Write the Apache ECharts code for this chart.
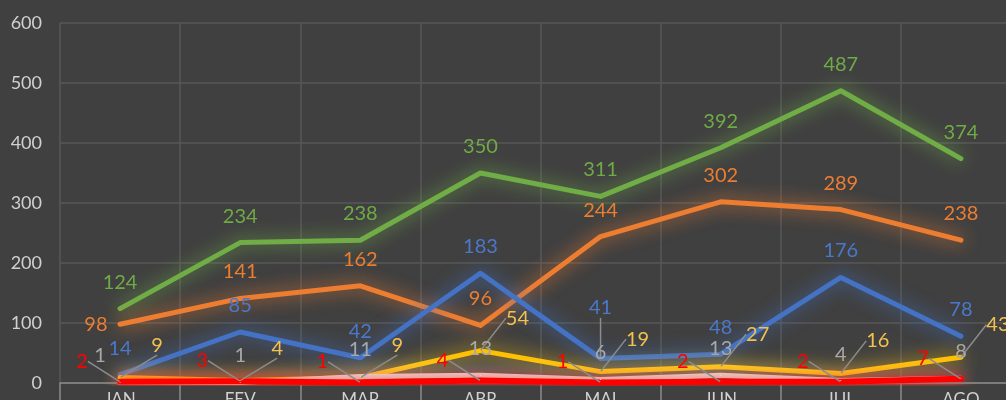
<!DOCTYPE html>
<html lang="pt">
<head>
    <meta charset="UTF-8">
    <title>Registos por mês</title>
    <script src="https://cdn.jsdelivr.net/npm/echarts@6/dist/echarts.min.js"></script>
    <style>
        html, body { margin: 0; padding: 0; background: #404040; }
        #container { width: 1006px; height: 400px; }
    </style>
</head>
<body>
<div id="container"></div>
<script>
    const months = ['JAN', 'FEV', 'MAR', 'ABR', 'MAI', 'JUN', 'JUL', 'AGO'];
    const greenVals = [124, 234, 238, 350, 311, 392, 487, 374];
    const orangeVals = [98, 141, 162, 96, 244, 302, 289, 238];
    const blueVals = [14, 85, 42, 183, 41, 48, 176, 78];
    const yellowVals = [9, 4, 9, 54, 19, 27, 16, 43];
    const grayVals = [1, 1, 11, 13, 6, 13, 4, 8];
    const redVals = [2, 3, 1, 4, 1, 2, 2, 7];
    const yTicks = [0, 100, 200, 300, 400, 500, 600];

    const font = 'Lato, "Open Sans", sans-serif';
    const guide = { show: true, lineStyle: { color: '#8c8c8c', width: 1.5 } };

    // one line series with glow and labels
    function line(name, data, color, labelColor, extra) {
        const s = {
            name: name,
            type: 'line',
            data: data,
            symbol: 'circle',
            symbolSize: 1,
            showSymbol: true,
            itemStyle: { color: color },
            lineStyle: {
                color: color,
                width: 5,
                cap: 'round',
                join: 'round',
                shadowBlur: 18,
                shadowColor: color
            },
            label: {
                show: true,
                position: 'top',
                distance: 16,
                color: labelColor,
                fontSize: 20,
                fontFamily: font
            },
            labelLine: { show: false }
        };
        return Object.assign(s, extra || {});
    }

    var dom = document.getElementById('container');
    var myChart = echarts.init(dom, null, { renderer: 'canvas' });

    var option = {
        backgroundColor: '#404040',
        animation: false,
        grid: { left: 60, right: -15, top: 23, bottom: 17, containLabel: false, outerBoundsMode: 'none' },
        xAxis: {
            type: 'category',
            data: months,
            boundaryGap: true,
            axisLine: { lineStyle: { color: '#8a8a8a', width: 1.5 } },
            axisTick: { show: true, length: 20, lineStyle: { color: '#8a8a8a', width: 1.5 } },
            axisLabel: { color: '#d0d0d0', fontSize: 17, fontFamily: font, margin: 8 },
            splitLine: { show: true, lineStyle: { color: '#575757', width: 1.5 } }
        },
        yAxis: {
            type: 'value',
            min: yTicks[0],
            max: yTicks[yTicks.length - 1],
            interval: 100,
            axisLine: { show: false },
            axisTick: { show: false },
            axisLabel: { color: '#d0d0d0', fontSize: 18, fontFamily: font, margin: 18 },
            splitLine: { lineStyle: { color: '#575757', width: 1.5 } }
        },
        series: [
            line('Verde', greenVals, '#70ad47', '#6fab45'),
            line('Laranja', orangeVals.map((v, i) => i === 0
                ? { value: v, label: { position: 'left', distance: 12 } } : v),
                '#ed7d31', '#ed7d31'),
            line('Azul', blueVals.map((v, i) => i === 4
                ? { value: v, labelLine: guide } : v),
                '#4472c4', '#4a78cc', {
                labelLayout: function (p) {
                    return p.dataIndex === 4 ? { dy: -24 } : {};
                }
            }),
            line('Amarelo', yellowVals, '#ffc000', '#f2c14e', {
                labelLine: guide,
                labelLayout: function () { return { dx: 37, dy: -6 }; }
            }),
            line('Cinza', grayVals, '#e6ede4', '#a8a8a8', {
                labelLayout: function (p) {
                    return p.dataIndex === 0 ? { dx: -20 } : {};
                }
            }),
            line('Vermelho', redVals, '#ff0000', '#ff0000', {
                lineStyle: { color: '#ff0000', width: 6, cap: 'round', join: 'round', shadowBlur: 14, shadowColor: '#ff0000' },
                labelLine: guide,
                labelLayout: function () { return { dx: -38, dy: 6 }; }
            })
        ]
    };
    myChart.setOption(option);
    window.addEventListener('resize', myChart.resize);
</script>
</body>
</html>
